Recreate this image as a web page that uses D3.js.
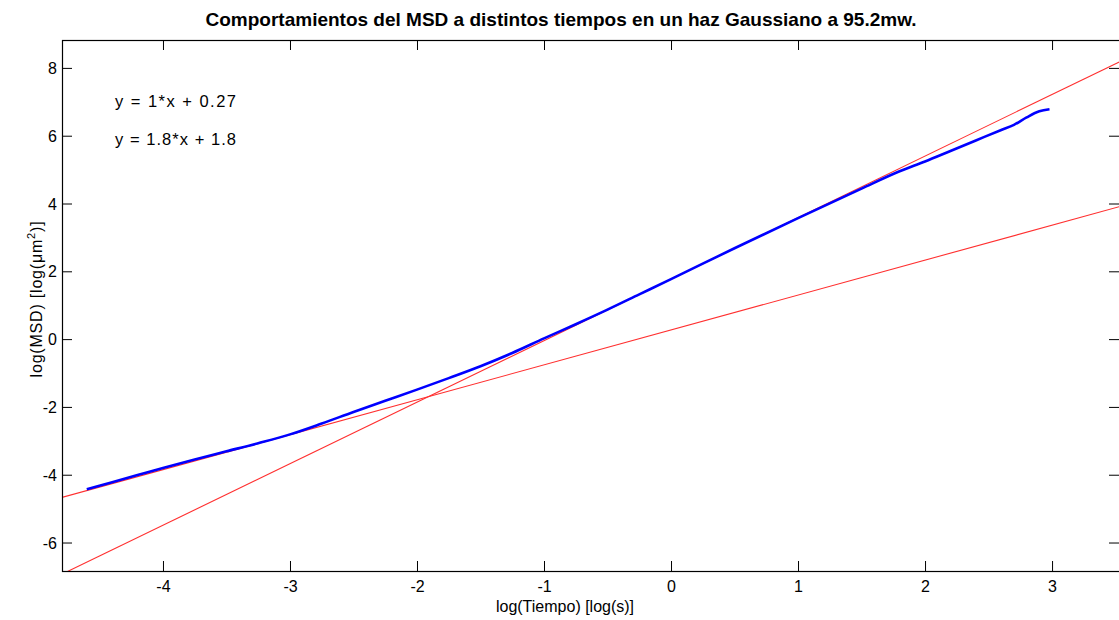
<!DOCTYPE html>
<html>
<head>
<meta charset="utf-8">
<script src="https://cdn.jsdelivr.net/npm/d3@7"></script>
<style>
  html, body { margin: 0; padding: 0; background: #fff; }
  svg { display: block; font-family: "Liberation Sans", Arial, sans-serif; }
</style>
</head>
<body>
<svg id="chart" width="1119" height="620"></svg>
<script>
// ---- data ----
const msdX = [-4.6, -4.4, -4.2, -4.0, -3.75, -3.5, -3.25, -3.0, -2.75, -2.5, -2.25, -2.0, -1.75, -1.5, -1.25, -1.0, -0.75, -0.5, -0.25, 0.0, 0.5, 1.0, 1.5, 1.8, 2.0, 2.2, 2.4, 2.6, 2.7, 2.8, 2.9, 2.98];
const msdY = [-4.43, -4.22, -4.01, -3.80, -3.55, -3.31, -3.07, -2.81, -2.49, -2.15, -1.82, -1.49, -1.15, -0.80, -0.41, 0.02, 0.44, 0.87, 1.32, 1.77, 2.68, 3.57, 4.44, 4.95, 5.24, 5.55, 5.86, 6.17, 6.32, 6.54, 6.72, 6.78];
const fitSlopes = [1.03, 1.815];
const fitIntercepts = [0.27, 1.77];
const fitLabels = ["y = 1*x + 0.27", "y = 1.8*x + 1.8"];
const xTicks = [-4, -3, -2, -1, 0, 1, 2, 3];
const yTicks = [-6, -4, -2, 0, 2, 4, 6, 8];
const xDomain = [-4.795, 3.535];
const yDomain = [-6.84, 8.823];

// ---- layout ----
const L = 62, T = 40, R = 1120, B = 571;
const svg = d3.select("#chart");
const x = d3.scaleLinear().domain(xDomain).range([L, R]);
const y = d3.scaleLinear().domain(yDomain).range([B, T]);
const fmt = d => String(d); // hyphen-minus like the original

svg.append("defs").append("clipPath").attr("id", "clip")
  .append("rect").attr("x", L).attr("y", T).attr("width", R - L).attr("height", B - T);

// fit lines
const plot = svg.append("g").attr("clip-path", "url(#clip)");
fitSlopes.forEach((m, i) => {
  const b = fitIntercepts[i];
  const pts = xDomain.map(v => [v, m * v + b]);
  plot.append("path")
    .attr("d", d3.line().x(d => x(d[0])).y(d => y(d[1]))(pts))
    .attr("fill", "none").attr("stroke", "#ff3030").attr("stroke-width", 1.1);
});

// MSD curve
plot.append("path")
  .attr("d", d3.line().x((d, i) => x(msdX[i])).y(d => y(d)).curve(d3.curveMonotoneX)(msdY))
  .attr("fill", "none").attr("stroke", "#0000ff").attr("stroke-width", 2.6);

// axes
const tickLen = 10;
const fs = 16;
const axB = svg.append("g").attr("transform", `translate(0,${B})`)
  .call(d3.axisBottom(x).tickValues(xTicks).tickSizeInner(-tickLen).tickSizeOuter(0).tickPadding(6).tickFormat(fmt));
const axT = svg.append("g").attr("transform", `translate(0,${T})`)
  .call(d3.axisTop(x).tickValues(xTicks).tickSizeInner(-tickLen).tickSizeOuter(0).tickFormat(""));
const axL = svg.append("g").attr("transform", `translate(${L},0)`)
  .call(d3.axisLeft(y).tickValues(yTicks).tickSizeInner(-tickLen).tickSizeOuter(0).tickPadding(5).tickFormat(fmt));
const axR = svg.append("g").attr("transform", `translate(${R - 1},0)`)
  .call(d3.axisRight(y).tickValues(yTicks).tickSizeInner(-tickLen).tickSizeOuter(0).tickFormat(""));
[axB, axT, axL, axR].forEach(g => {
  g.select(".domain").remove();
  g.selectAll(".tick line").attr("stroke", "#000").attr("stroke-width", 1);
  g.selectAll("text").attr("font-size", fs).attr("fill", "#000").attr("font-family", "'Liberation Sans', Arial, sans-serif");
});
axB.selectAll("text").attr("dy", "0.95em");
axL.selectAll("text").attr("dy", "0.35em");

// box
svg.append("rect").attr("x", L + 0.5).attr("y", T + 0.5).attr("width", R - L).attr("height", B - T)
  .attr("fill", "none").attr("stroke", "#000").attr("stroke-width", 1.2);

// title
svg.append("text").attr("x", 561).attr("y", 26).attr("text-anchor", "middle")
  .attr("font-size", 18.5).attr("font-weight", "bold").attr("fill", "#000")
  .attr("textLength", 711).attr("lengthAdjust", "spacingAndGlyphs")
  .text("Comportamientos del MSD a distintos tiempos en un haz Gaussiano a 95.2mw.");

// x label
svg.append("text").attr("x", 565).attr("y", 612).attr("text-anchor", "middle")
  .attr("font-size", fs).attr("fill", "#000").text("log(Tiempo) [log(s)]");

// y label
const yl = svg.append("text").attr("transform", "translate(42,299) rotate(-90)")
  .attr("text-anchor", "middle").attr("font-size", fs).attr("fill", "#000")
  .attr("letter-spacing", 0.8);
yl.append("tspan").text("log(MSD) [log(\u03bcm");
yl.append("tspan").attr("font-size", 11).attr("dy", -7).text("2");
yl.append("tspan").attr("dy", 7).text(")]");

// fit labels
fitLabels.forEach((t, i) => {
  svg.append("text").attr("x", 115).attr("y", 107 + i * 38)
    .attr("font-size", 16.5).attr("fill", "#000")
    .attr("textLength", 121).attr("lengthAdjust", "spacing").text(t);
});
</script>
</body>
</html>
